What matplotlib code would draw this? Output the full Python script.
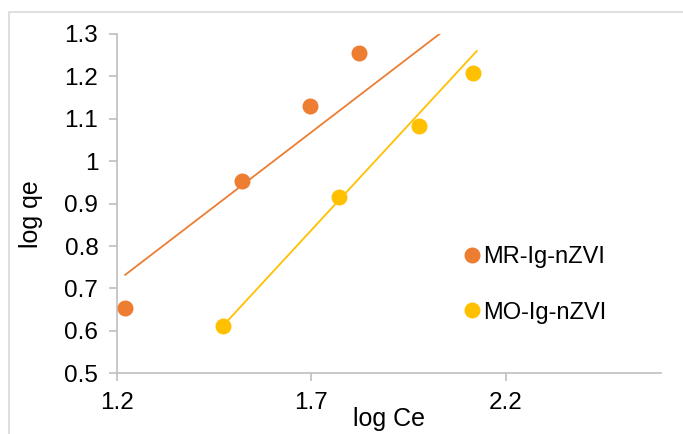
import numpy as np
import matplotlib
matplotlib.use("Agg")
import matplotlib.pyplot as plt
from matplotlib.patches import Rectangle
from matplotlib.lines import Line2D

plt.rcParams['font.family'] = ['Liberation Sans', 'DejaVu Sans']

# Freundlich isotherm data (log Ce vs log qe)
series_names = ["MR-Ig-nZVI", "MO-Ig-nZVI"]
log_ce_mr = [1.221, 1.521, 1.697, 1.822]
log_qe_mr = [0.653, 0.954, 1.130, 1.255]
log_ce_mo = [1.4725, 1.7725, 1.976, 2.116]
log_qe_mo = [0.612, 0.915, 1.084, 1.207]

# linear trendlines: slope, intercept and x-span
mr_fit = (0.702, -0.125)
mr_span = (1.221, 2.10)
mo_fit = (0.992, -0.849)
mo_span = (1.4725, 2.126)

x_ticks = [1.2, 1.7, 2.2]
x_tick_labels = ["1.2", "1.7", "2.2"]
y_ticks = [0.5, 0.6, 0.7, 0.8, 0.9, 1.0, 1.1, 1.2, 1.3]
y_tick_labels = ["0.5", "0.6", "0.7", "0.8", "0.9", "1", "1.1", "1.2", "1.3"]

c_mr = "#ED7D31"
c_mo = "#FFC000"
grey = "#BFBFBF"

W, H = 683, 434
fig = plt.figure(figsize=(W / 100, H / 100), dpi=100)

# chart frame
fig.patches.append(Rectangle((9 / W, -0.1), 1.2, 1 - 12 / H + 0.1,
                             transform=fig.transFigure, fill=False,
                             edgecolor="#D9D9D9", linewidth=1.2))

ax = fig.add_axes([117 / W, 1 - 373.3 / H, (661 - 117) / W, (373.3 - 34) / H])

for (m, b), (x0, x1), col in [(mr_fit, mr_span, c_mr), (mo_fit, mo_span, c_mo)]:
    xs = np.array([x0, x1])
    ax.plot(xs, m * xs + b, color=col, linewidth=1.3, zorder=2)

ax.plot(log_ce_mr, log_qe_mr, 'o', color=c_mr, markersize=10.5, zorder=3)
ax.plot(log_ce_mo, log_qe_mo, 'o', color=c_mo, markersize=10.5, zorder=3)

ax.set_xlim(1.2, 2.6)
ax.set_ylim(0.5, 1.3)
ax.set_xticks(x_ticks)
ax.set_xticklabels(x_tick_labels)
ax.set_yticks(y_ticks)
ax.set_yticklabels(y_tick_labels)

for s in ["top", "right"]:
    ax.spines[s].set_visible(False)
for s in ["left", "bottom"]:
    ax.spines[s].set_color(grey)
    ax.spines[s].set_linewidth(1.2)

ax.tick_params(axis="both", direction="out", color=grey, width=1.2,
               length=5.5, labelsize=17.5, labelcolor="black")
ax.tick_params(axis="y", pad=8)
ax.tick_params(axis="x", pad=8)

ax.set_xlabel("log Ce", fontsize=18)
ax.xaxis.set_label_coords(0.5, -0.10)
ax.set_ylabel("log qe", fontsize=18)
ax.yaxis.set_label_coords(-0.136, 0.47)

handles = [Line2D([], [], marker='o', linestyle='none', color=c, markersize=10.5)
           for c in (c_mr, c_mo)]
ax.legend(handles, series_names, loc="upper left",
          bbox_to_anchor=((465 - 117) / (661 - 117), (373.3 - 246) / (373.3 - 34)),
          frameon=False, fontsize=17, handlelength=0.6, handletextpad=0.17,
          labelspacing=1.42, borderpad=0, borderaxespad=0)

fig.savefig("out.png", dpi=100)
